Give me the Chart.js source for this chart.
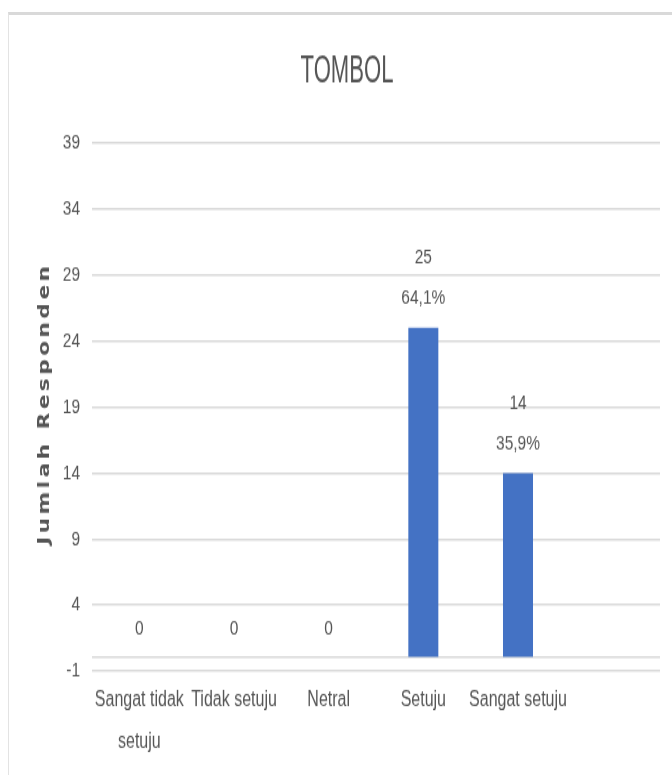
<!DOCTYPE html>
<html>
<head>
<meta charset="utf-8">
<script src="https://cdn.jsdelivr.net/npm/chart.js@4.4.1/dist/chart.umd.min.js"></script>
<style>
  html, body { margin: 0; padding: 0; background: #fff; }
  body { width: 672px; height: 775px; position: relative; overflow: hidden; }
  #frame { position: absolute; left: 8px; top: 12px; right: 0; bottom: 0; border-top: 3px solid #d9d9d9; border-left: 1px solid #e3e3e3; }
  #wrap { position: absolute; left: 0; top: 0; width: 672px; height: 574px; transform: scaleY(1.35); transform-origin: 0 0; }
</style>
</head>
<body>
<div id="frame"></div>
<div id="wrap"><canvas id="chart" width="672" height="574"></canvas></div>
<script>
const chartTitle = 'TOMBOL';
const yAxisTitle = 'Jumlah Responden';
const categories = [['Sangat tidak', 'setuju'], 'Tidak setuju', 'Netral', 'Setuju', 'Sangat setuju', ''];
const responden = [0, 0, 0, 25, 14, null];
const persen = ['', '', '', '64,1%', '35,9%', ''];
const yTicks = [-1, 4, 9, 14, 19, 24, 29, 34, 39];

const textColor = '#555555';
const gridColor = '#d9d9d9';
const fontFamily = '"Liberation Sans", Arial, sans-serif';

// value + percentage above each bar
const barLabels = {
    id: 'barLabels',
    afterDatasetsDraw(chart) {
        const ctx = chart.ctx;
        const meta = chart.getDatasetMeta(0);
        ctx.save();
        ctx.font = '15.5px ' + fontFamily;
        ctx.fillStyle = textColor;
        ctx.textAlign = 'center';
        ctx.textBaseline = 'middle';
        meta.data.forEach((bar, i) => {
            const v = responden[i];
            if (v === null) return;
            const top = chart.scales.y.getPixelForValue(v);
            if (persen[i]) {
                ctx.fillText(persen[i], bar.x, top - 22);
                ctx.fillText(String(v), bar.x, top - 52);
            } else {
                ctx.fillText(String(v), bar.x, top - 22);
            }
        });
        ctx.restore();
    }
};

// narrow tall title + spaced out y axis title
const titles = {
    id: 'titles',
    afterDraw(chart) {
        const ctx = chart.ctx;
        ctx.save();
        ctx.translate(347, 53.3);
        ctx.scale(0.85, 1.1);
        ctx.font = '26px ' + fontFamily;
        ctx.fillStyle = textColor;
        ctx.textAlign = 'center';
        ctx.textBaseline = 'middle';
        ctx.fillText(chartTitle, 0, 0);
        ctx.restore();

        ctx.save();
        ctx.translate(45, 403.5);
        ctx.rotate(-Math.PI / 2);
        ctx.font = 'bold 16px "DejaVu Sans", sans-serif';
        ctx.letterSpacing = '2.6px';
        ctx.fillStyle = textColor;
        ctx.textAlign = 'left';
        ctx.textBaseline = 'middle';
        ctx.fillText(yAxisTitle, 0, 0);
        ctx.restore();
    }
};

new Chart(document.getElementById('chart').getContext('2d'), {
    type: 'bar',
    data: {
        labels: categories,
        datasets: [{
            label: 'Jumlah Responden',
            data: responden,
            backgroundColor: '#4472c4',
            borderWidth: 0,
            barPercentage: 0.634,
            categoryPercentage: 0.5
        }]
    },
    options: {
        responsive: false,
        maintainAspectRatio: false,
        devicePixelRatio: 1,
        animation: false,
        layout: { padding: { left: 0, right: 12, top: 106, bottom: 0 } },
        plugins: {
            legend: { display: false },
            tooltip: { enabled: false },
            title: { display: false }
        },
        scales: {
            x: {
                grid: { display: false },
                border: { display: false },
                ticks: {
                    color: textColor,
                    font: { family: fontFamily, size: 16, lineHeight: 1.96 },
                    padding: -2,
                    maxRotation: 0,
                    autoSkip: false
                },
                afterFit(axis) { axis.height = 77; }
            },
            y: {
                min: -1,
                max: 39,
                grid: { color: gridColor, lineWidth: 1.5, drawTicks: false },
                border: { display: false },
                ticks: {
                    color: textColor,
                    font: { family: fontFamily, size: 15.5 },
                    padding: 12,
                    callback: (value) => value === 0 ? '' : value
                },
                afterBuildTicks(axis) {
                    axis.ticks = [...yTicks, 0].sort((a, b) => a - b).map(v => ({ value: v }));
                },
                afterFit(axis) { axis.width = 92; }
            }
        }
    },
    plugins: [barLabels, titles]
});
</script>
</body>
</html>
